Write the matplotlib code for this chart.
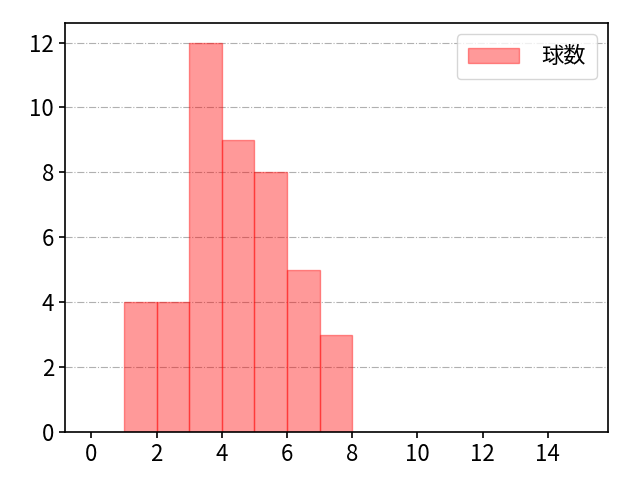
import matplotlib
matplotlib.use("Agg")
import matplotlib.pyplot as plt
import numpy as np

plt.rcParams['font.family'] = ['Noto Sans CJK JP', 'DejaVu Sans']

bin_edges = [1, 2, 3, 4, 5, 6, 7, 8]
counts = [4, 4, 12, 9, 8, 5, 3]
label = "球数"

fig, ax = plt.subplots(figsize=(6.4, 4.8), dpi=100)
ax.hist(bin_edges[:-1], bins=bin_edges, weights=counts, facecolor='red', alpha=0.4,
        edgecolor='red', linewidth=1.0, label=label)
ax.set_xlim(-0.8, 15.85)
ax.set_ylim(0, 12.6)
ax.set_xticks(np.arange(0, 15, 2))
ax.set_yticks(np.arange(0, 13, 2))
ax.yaxis.grid(True, linestyle='-.', color='#b0b0b0', linewidth=0.8)
ax.set_axisbelow(True)
ax.tick_params(labelsize=16, length=4.5, width=1.2)
for s in ax.spines.values():
    s.set_linewidth(1.2)
ax.legend(loc='upper right', fontsize=16, handlelength=2.3, handletextpad=1.0, borderpad=0.5)
fig.subplots_adjust(left=0.102, right=0.95, top=0.952, bottom=0.1)
fig.savefig("out.png")
